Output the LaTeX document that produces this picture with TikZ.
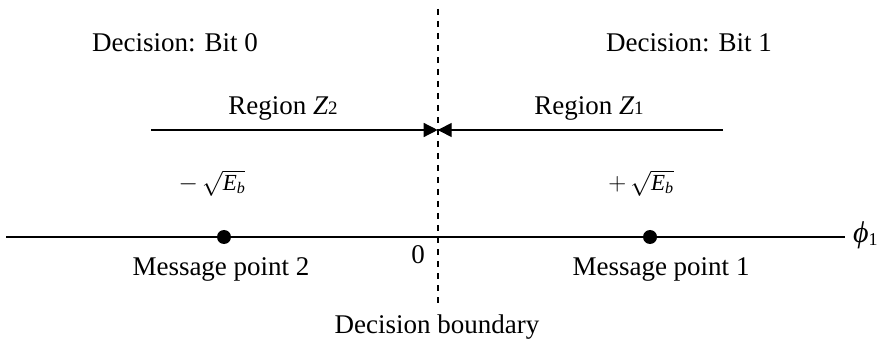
\documentclass[tikz,border=0pt]{standalone}
\usepackage{fontspec}
\setmainfont{Liberation Serif}
\usetikzlibrary{arrows.meta}
\begin{document}
\begin{tikzpicture}[x=1pt,y=-1pt,
  lbl/.style={inner sep=0pt, anchor=base, font=\fontsize{27}{32}\selectfont},
  sml/.style={inner sep=0pt, anchor=base, font=\fontsize{23}{26}\selectfont},
  dotpt/.style={circle, fill=black, inner sep=0pt, minimum size=14pt},
  axisline/.style={line width=1.6pt},
  bound/.style={line width=1.8pt, dash pattern=on 6pt off 6pt},
  regarrow/.style={line width=1.4pt, -{Triangle[length=14pt,width=14pt]}, shorten >=0pt}
]
\useasboundingbox (0,0) rectangle (887,342);
% texts
\node[lbl] (dec0) at (175,52) {Decision: Bit 0};
\node[lbl] (dec1) at (689,52) {Decision: Bit 1};
\node[lbl] (reg2) at (283,115) {Region \textit{Z}{\fontsize{19}{22}\selectfont 2}};
\node[lbl] (reg1) at (589,115) {Region \textit{Z}{\fontsize{19}{22}\selectfont 1}};
\node[sml] (eneg) at (212,190) {$-\,\sqrt{\mathit{E}_{\mathit{b}}}$};
\node[sml] (epos) at (641,190) {$+\,\sqrt{\mathit{E}_{\mathit{b}}}$};
\node[lbl] (zero) at (418,263) {0};
\node[lbl] (mp2) at (221,276) {Message point 2};
\node[lbl] (mp1) at (661,276) {Message point 1};
\node[lbl] (db) at (437,333) {Decision boundary};
\node[inner sep=0pt, anchor=base west, font=\fontsize{30}{34}\selectfont] (phi) at (853,243) {\textit{ϕ}\raisebox{-3pt}{\fontsize{18}{20}\selectfont 1}};
% coordinates
\coordinate (btop) at (437.7,9);
\coordinate (bbot) at (437.7,307);
\coordinate (axl) at (6,237);
\coordinate (axr) at (845,237);
\coordinate (rl) at (151,130);
\coordinate (rr) at (723,130);
\coordinate (rm) at (437.7,130);
% lines
\draw[axisline] (axl) -- (axr);
\draw[bound] (btop) -- (bbot);
\draw[regarrow] (rl) -- (rm);
\draw[regarrow] (rr) -- (rm);
% dots
\node[dotpt] (p2) at (224,237) {};
\node[dotpt] (p1) at (650,237) {};
\end{tikzpicture}
\end{document}
